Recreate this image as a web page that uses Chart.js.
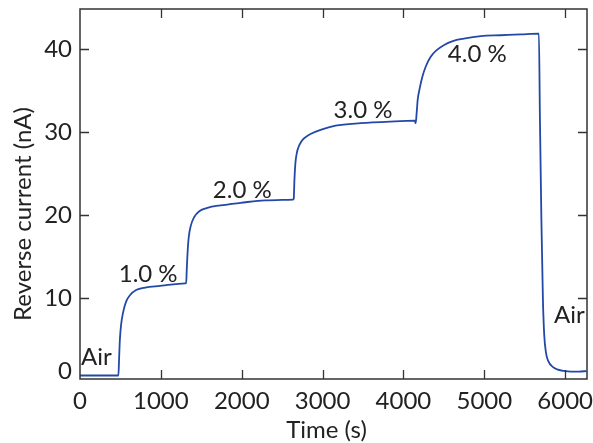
<!DOCTYPE html>
<html><head><meta charset="utf-8">
<script src="https://cdn.jsdelivr.net/npm/chart.js@4"></script>
<style>html,body{margin:0;padding:0;background:#fff}#wrap{width:593px;height:443px}</style>
</head><body><div id="wrap"><canvas id="c" width="593" height="443"></canvas></div>
<script>
const timeS = [0, 300, 475, 483, 493, 508, 533, 570, 620, 694, 805, 990, 1180, 1300,
  1313, 1320, 1330, 1344, 1369, 1413, 1475, 1575, 1735, 1985, 2290, 2635,
  2643, 2652, 2664, 2683, 2714, 2763, 2850, 2975, 3160, 3470, 3840, 4140,
  4151, 4164, 4176, 4201, 4234, 4275, 4337, 4411, 4498, 4610, 4746, 4957, 5204, 5452, 5675,
  5688, 5706, 5725, 5741, 5762, 5793, 5845, 5911, 5985, 6072, 6170, 6265];
const currentNA = [0.7, 0.7, 0.7, 2.6, 5.0, 6.8, 8.3, 9.6, 10.4, 11.0, 11.3, 11.5, 11.7, 11.8,
  11.8, 13.4, 15.5, 17.3, 18.7, 19.8, 20.5, 20.9, 21.2, 21.5, 21.8, 21.9,
  22.0, 24.3, 26.3, 27.6, 28.5, 29.2, 29.8, 30.3, 30.8, 31.1, 31.3, 31.4,
  31.1, 32.4, 33.9, 35.3, 36.7, 37.9, 39.1, 39.9, 40.5, 41.0, 41.3, 41.6, 41.7, 41.8, 41.9,
  31.5, 19.4, 9.8, 5.6, 3.5, 2.4, 1.75, 1.4, 1.25, 1.18, 1.18, 1.24];
const xTicks = [0, 1000, 2000, 3000, 4000, 5000, 6000];
const yTicks = [0, 10, 20, 30, 40];
const xTitle = 'Time (s)';
const yTitle = 'Reverse current (nA)';
const annText = ['Air', '1.0 %', '2.0 %', '3.0 %', '4.0 %', 'Air'];
const annTime = [0, 843, 2007, 3500, 4913, 6053];
const annCurrent = [2.9, 12.9, 23.0, 32.7, 39.4, 8.0];
const annAlign = ['left', 'center', 'center', 'center', 'center', 'center'];

const FONT = 'Lato, "Open Sans", sans-serif';
const FS = 24;
const AXIS = '#333333';
const TEXT = '#222222';

const framePlugin = {
  id: 'frame',
  afterDatasetsDraw(chart) {
    const {ctx, chartArea: a, scales: {x, y}} = chart;
    ctx.save();
    ctx.strokeStyle = AXIS;
    ctx.lineWidth = 1.5;
    ctx.strokeRect(a.left, a.top, a.right - a.left, a.bottom - a.top);
    ctx.beginPath();
    const L = 9;
    xTicks.forEach(v => {
      if (v === 0) return;
      const px = Math.round(x.getPixelForValue(v)) + 0.5;
      ctx.moveTo(px, a.bottom); ctx.lineTo(px, a.bottom - L);
      ctx.moveTo(px, a.top); ctx.lineTo(px, a.top + L);
    });
    yTicks.forEach(v => {
      if (v === 0) return;
      const py = Math.round(y.getPixelForValue(v)) + 0.5;
      ctx.moveTo(a.left, py); ctx.lineTo(a.left + L, py);
      ctx.moveTo(a.right, py); ctx.lineTo(a.right - L, py);
    });
    ctx.lineWidth = 1.3;
    ctx.stroke();
    ctx.fillStyle = TEXT;
    ctx.font = FS + 'px ' + FONT;
    ctx.textBaseline = 'middle';
    annText.forEach((t, i) => {
      ctx.textAlign = annAlign[i];
      const px = x.getPixelForValue(annTime[i]) + (annAlign[i] === 'left' ? 1 : 0);
      ctx.fillText(t, px, y.getPixelForValue(annCurrent[i]));
    });
    // axis titles
    ctx.textAlign = 'center';
    ctx.fillText(xTitle, (a.left + a.right) / 2 - 7, a.bottom + 51);
    ctx.save();
    ctx.translate(a.left - 57, (a.top + a.bottom) / 2 + 20);
    ctx.rotate(-Math.PI / 2);
    ctx.fillText(yTitle, 0, 0);
    ctx.restore();
    ctx.restore();
  }
};

new Chart(document.getElementById('c'), {
  type: 'line',
  data: {
    datasets: [{
      data: timeS.map((t, i) => ({x: t, y: currentNA[i]})),
      borderColor: '#2349a6',
      borderWidth: 1.8,
      pointRadius: 0,
      fill: false,
      cubicInterpolationMode: 'monotone',
      clip: false
    }]
  },
  options: {
    responsive: false,
    animation: false,
    devicePixelRatio: 1,
    layout: {padding: {top: 9, right: 6, left: 0, bottom: 0}},
    plugins: {legend: {display: false}, tooltip: {enabled: false}},
    scales: {
      x: {
        type: 'linear', min: 0, max: 6270,
        afterBuildTicks: s => { s.ticks = xTicks.map(v => ({value: v})); },
        afterFit: s => { s.height = 64; s.paddingLeft = 0; s.paddingRight = 0; },
        grid: {display: false, drawTicks: false},
        border: {display: false},
        ticks: {color: TEXT, font: {family: FONT, size: FS}, padding: 8, maxRotation: 0,
          callback: v => String(v)},
        title: {display: false}
      },
      y: {
        type: 'linear', min: 0.28, max: 44.86,
        afterBuildTicks: s => { s.ticks = yTicks.map(v => ({value: Math.max(v, s.min + 0.9)})); },
        afterFit: s => { s.width = 80; s.paddingTop = 0; s.paddingBottom = 0; },
        grid: {display: false, drawTicks: false},
        border: {display: false},
        ticks: {color: TEXT, font: {family: FONT, size: FS}, padding: 8,
          callback: (v, i) => String(yTicks[i])},
        title: {display: false}
      }
    }
  },
  plugins: [framePlugin]
});
</script>
</body></html>
